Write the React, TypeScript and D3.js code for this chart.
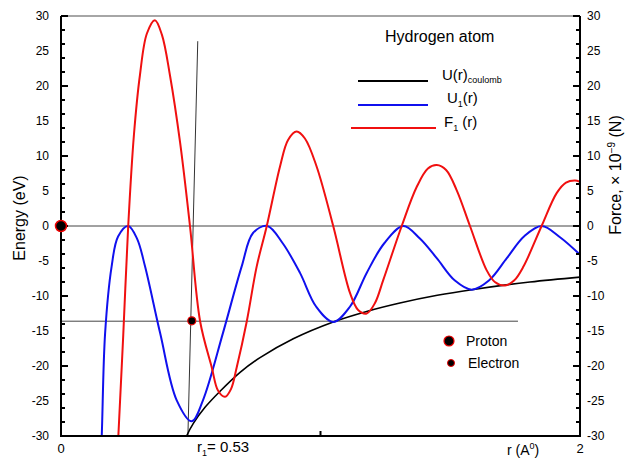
import React from 'react'
import * as d3 from 'd3'

// values (r in Å, energy in eV / force in 1e-9 N)
const coulombPts: [number, number][] = [
  [0.474, -31], [0.484, -30], [0.51, -28.2], [0.555, -25.9], [0.613, -23.6],
  [0.69, -20.9], [0.767, -18.8], [0.895, -16.1], [1.049, -13.7], [1.178, -12.2],
  [1.306, -11.0], [1.45, -9.9], [1.583, -9.1], [1.807, -8.0], [2.0, -7.3],
]

const u1Pts: [number, number][] = [
  [0.15, -36], [0.157, -30], [0.17, -15.3], [0.195, -5.8], [0.22, -1.5], [0.259, 0],
  [0.293, -1.8], [0.324, -5.8], [0.382, -15.3], [0.446, -24.9], [0.504, -27.9],
  [0.547, -24.9], [0.624, -15.3], [0.696, -5.8], [0.74, -1], [0.795, 0],
  [0.855, -2.5], [0.921, -6.7], [0.983, -11.5], [1.049, -13.7], [1.114, -11.5],
  [1.178, -6.7], [1.245, -2.5], [1.319, 0], [1.383, -1.8], [1.448, -4.6],
  [1.518, -7.8], [1.583, -9.1], [1.649, -7.8], [1.718, -4.6], [1.784, -1.5],
  [1.852, 0], [1.923, -1.6], [2.0, -4.1],
]

const f1Pts: [number, number][] = [
  [0.214, -36], [0.221, -30], [0.24, -15.5], [0.259, 0], [0.281, 13], [0.304, 21.5],
  [0.331, 27.5], [0.362, 29.4], [0.389, 27.3], [0.42, 21.5], [0.459, 11.9],
  [0.497, 0], [0.536, -13.6], [0.581, -20.2], [0.605, -23.5], [0.632, -24.4],
  [0.655, -23.3], [0.677, -20.2], [0.716, -13.6], [0.754, -5.8], [0.793, 0],
  [0.844, 8.5], [0.875, 12.3], [0.908, 13.5], [0.94, 12.5], [0.985, 8.5],
  [1.049, 0], [1.114, -9.6], [1.145, -12], [1.178, -12.5], [1.21, -11],
  [1.242, -7.7], [1.313, 0], [1.371, 5.6], [1.414, 8.2], [1.448, 8.7],
  [1.484, 8.0], [1.525, 5.1], [1.576, 0], [1.64, -6.3], [1.672, -8],
  [1.711, -8.5], [1.746, -7.8], [1.782, -5.8], [1.852, 0], [1.91, 4.7],
  [1.946, 6.2], [1.981, 6.5], [2.0, 6.3],
]

const energyTicks = [30, 25, 20, 15, 10, 5, 0, -5, -10, -15, -20, -25, -30]
const forceTicks = [30, 25, 20, 15, 10, 5, 0, -5, -10, -15, -20, -25, -30]
const rTicks = [0, 1, 2]
const rTickLabels = ['0', '', '2']

const groundLevel = -13.6
const groundLineEnd = 1.761
const r1Line: [number, number][] = [[0.489, -30], [0.527, 26.4]]
const proton: [number, number] = [0, 0]
const electron: [number, number] = [0.504, -13.55]

const W = 629
const H = 463
const margin = { top: 16, right: 49, bottom: 27, left: 61 }
const font = 'Liberation Sans, Arial, Helvetica, sans-serif'

export default function App() {
  const x = d3.scaleLinear().domain([0, 2]).range([margin.left, W - margin.right])
  const y = d3.scaleLinear().domain([-30, 30]).range([H - margin.bottom, margin.top])
  const yF = d3.scaleLinear().domain([-30, 30]).range([H - margin.bottom, margin.top])

  const line = d3
    .line<[number, number]>()
    .x((d) => x(d[0]))
    .y((d) => y(d[1]))
    .curve(d3.curveCatmullRom.alpha(0.5))

  const straight = d3
    .line<[number, number]>()
    .x((d) => x(d[0]))
    .y((d) => y(d[1]))

  const minor = y.ticks(24)
  const x0 = x(0)
  const x2 = x(2)
  const yTop = y(30)
  const yBot = y(-30)

  return (
    <svg
      width={W}
      height={H}
      style={{ position: 'absolute', left: 0, top: 0, background: '#fff' }}
      fontFamily={font}
    >
      <defs>
        <clipPath id="plot">
          <rect x={x0} y={yTop} width={x2 - x0} height={yBot - yTop} />
        </clipPath>
      </defs>

      {/* reference lines */}
      <line x1={x0} x2={x2} y1={y(0)} y2={y(0)} stroke="#444" strokeWidth={1} />
      <line
        x1={x0}
        x2={x(groundLineEnd)}
        y1={y(groundLevel)}
        y2={y(groundLevel)}
        stroke="#444"
        strokeWidth={1}
      />
      <path d={straight(r1Line) || ''} stroke="#333" strokeWidth={1} fill="none" />

      {/* curves */}
      <g clipPath="url(#plot)" fill="none" strokeLinejoin="round">
        <path d={line(coulombPts) || ''} stroke="#000" strokeWidth={1.6} />
        <path d={line(u1Pts) || ''} stroke="#1010ee" strokeWidth={2} />
        <path d={line(f1Pts) || ''} stroke="#f01010" strokeWidth={2} />
      </g>

      {/* frame */}
      <line x1={x0} x2={x2} y1={yTop} y2={yTop} stroke="#888" strokeWidth={1.5} />
      <line x1={x0} x2={x0} y1={yTop} y2={yBot} stroke="#000" strokeWidth={2} />
      <line x1={x2} x2={x2} y1={yTop} y2={yBot} stroke="#000" strokeWidth={2} />
      <line x1={x0 - 1} x2={x2 + 1} y1={yBot} y2={yBot} stroke="#000" strokeWidth={2} />

      {/* side axis ticks */}
      {minor.map((t) => {
        const major = t % 5 === 0
        return (
          <g key={`l${t}`}>
            <line x1={x0} x2={x0 + (major ? 7 : 4)} y1={y(t)} y2={y(t)} stroke="#000" strokeWidth={2} />
            <line x1={x2} x2={x2 - (major ? 7 : 4)} y1={yF(t)} y2={yF(t)} stroke="#000" strokeWidth={2} />
          </g>
        )
      })}
      {energyTicks.map((t) => (
        <text key={`et${t}`} x={49} y={y(t)} dy="0.35em" fontSize={12} textAnchor="end" fill="#000">
          {t}
        </text>
      ))}
      {forceTicks.map((t) => (
        <text key={`ft${t}`} x={587} y={yF(t)} dy="0.35em" fontSize={12} textAnchor="start" fill="#000">
          {t}
        </text>
      ))}

      {/* bottom axis */}
      {rTicks.map((t, i) => (
        <g key={`r${t}`}>
          <line x1={x(t)} x2={x(t)} y1={yBot} y2={yBot - 5} stroke="#000" strokeWidth={2} />
          <text x={x(t)} y={yBot + 17} fontSize={13} textAnchor="middle" fill="#000">
            {rTickLabels[i]}
          </text>
        </g>
      ))}
      <text x={197} y={452} fontSize={15} fill="#000">
        r<tspan fontSize={9} dy={4}>1</tspan>
        <tspan dy={-4}>= 0.53</tspan>
      </text>
      <text x={507} y={455} fontSize={14} fill="#000">
        r (A<tspan fontSize={9} dy={-6}>0</tspan>
        <tspan dy={6}>)</tspan>
      </text>

      {/* axis titles */}
      <text transform="translate(25,218) rotate(-90)" fontSize={16} textAnchor="middle" fill="#000">
        Energy (eV)
      </text>
      <text transform="translate(621,175) rotate(-90)" fontSize={16} textAnchor="middle" fill="#000">
        Force, × 10<tspan fontSize={10} dy={-6}>−9</tspan>
        <tspan dy={6}> (N)</tspan>
      </text>

      {/* points */}
      <circle cx={x(proton[0])} cy={y(proton[1])} r={5.5} fill="#000" stroke="#e00" strokeWidth={1.5} />
      <circle cx={x(electron[0])} cy={y(electron[1])} r={4} fill="#000" stroke="#e00" strokeWidth={1.2} />

      {/* legend */}
      <text x={385} y={42} fontSize={16} fill="#000">
        Hydrogen atom
      </text>
      <line x1={358} x2={428} y1={81} y2={81} stroke="#000" strokeWidth={2} />
      <line x1={358} x2={428} y1={105} y2={105} stroke="#1010ee" strokeWidth={2} />
      <line x1={351} x2={436} y1={128} y2={128} stroke="#f01010" strokeWidth={2} />
      <text x={442} y={80} fontSize={15} fill="#000">
        U(r)<tspan fontSize={9} dy={3}>coulomb</tspan>
      </text>
      <text x={447} y={103} fontSize={15} fill="#000">
        U<tspan fontSize={9} dy={4}>1</tspan>
        <tspan dy={-4}>(r)</tspan>
      </text>
      <text x={444} y={127} fontSize={15} fill="#000">
        F<tspan fontSize={9} dy={4}>1</tspan>
        <tspan dy={-4}> (r)</tspan>
      </text>

      <circle cx={449} cy={341} r={5} fill="#000" stroke="#e00" strokeWidth={1.2} />
      <text x={466} y={346} fontSize={14} fill="#000">
        Proton
      </text>
      <circle cx={451} cy={363} r={3.5} fill="#000" stroke="#e00" strokeWidth={1} />
      <text x={468} y={368} fontSize={14} fill="#000">
        Electron
      </text>
    </svg>
  )
}
